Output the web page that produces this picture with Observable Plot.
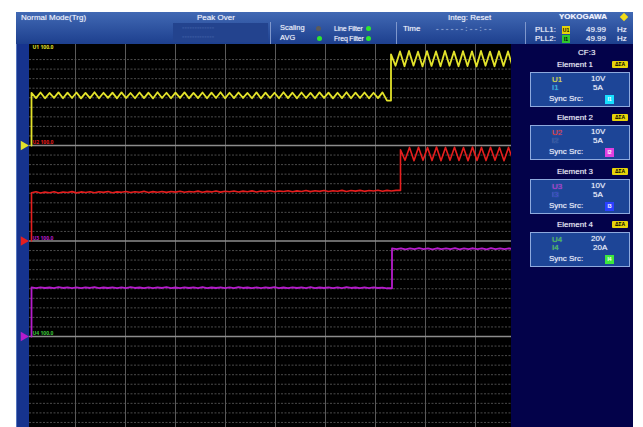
<!DOCTYPE html>
<html><head><meta charset="utf-8">
<script src="https://cdn.jsdelivr.net/npm/d3@7"></script>
<script src="https://cdn.jsdelivr.net/npm/@observablehq/plot@0.6"></script>
<style>
html,body{margin:0;padding:0;background:#fff;}
body{width:643px;height:427px;overflow:hidden;position:relative;font-family:"Liberation Sans","DejaVu Sans",Arial,sans-serif;color:#fff;}
.a{position:absolute;white-space:nowrap;}
.t{font-size:8px;line-height:8px;color:#f2f4ff;text-shadow:0 0 1px rgba(255,255,255,0.5);}
.dot{position:absolute;width:5px;height:5px;border-radius:50%;}
.sep{position:absolute;width:1px;background:#7f97cc;}
.box{position:absolute;background:#1d4597;border:1px solid #8eaade;box-sizing:border-box;}
.tag{position:absolute;font-size:5px;line-height:8px;text-align:center;color:#000;font-weight:bold;}
</style></head>
<body>
<div class="a" style="left:16px;top:12px;width:617px;height:415px;background:#03024a;"></div>
<div class="a" style="left:16px;top:12px;width:617px;height:32px;background:linear-gradient(#4169b4,#1d3f8e);"></div>
<div class="a" style="left:16px;top:44px;width:13px;height:383px;background:#16338e;border-left:1px solid #5474bc;box-sizing:border-box;"></div>
<div class="a" style="left:29px;top:44px;width:482px;height:383px;background:#000;"></div>
<div id="hdr"></div>
<div id="panel"></div>
<div id="chart" class="a" style="left:16px;top:44px;"></div>
<script>
// ---- data ----
const channelNames = ["U1", "U2", "U3", "U4"];
const channelColors = ["#e2e22a", "#e61e1e", "#b61ccc", "#3cc83c"];
const channelLabels = ["U1 100.0", "U2 100.0", "U3 100.0", "U4 100.0"];
const traceStart = 0.12;      // time (div) where traces begin
const sampleStep = 0.09;      // time between samples (div)
const stepTimes = [7.31, 7.5, 7.33];
const ch1Pre = [5.52,4.96,5.55,4.94,5.5,4.98,5.56,4.95,5.53,4.97,
  5.55,4.93,5.51,4.96,5.57,4.95,5.52,4.98,5.54,4.94,
  5.56,4.97,5.5,4.95,5.55,4.96,5.53,4.93,5.57,4.97,
  5.52,4.95,5.54,4.98,5.56,4.94,5.51,4.96,5.55,4.95,
  5.53,4.97,5.57,4.94,5.52,4.96,5.55,4.98,5.5,4.95,
  5.56,4.93,5.54,4.97,5.52,4.95,5.57,4.96,5.53,4.94,
  5.55,4.97,5.51,4.95,5.56,4.98,5.54,4.93,5.52,4.96,
  5.57,4.95,5.53,4.97,5.55,4.94,5.52,4.96,5.56,4.7];
const ch1Post = [9.55,8.35,9.85,8.3,9.9,8.36,9.82,8.28,9.88,8.33,9.85,8.3,9.9,8.35,
  9.84,8.3,9.88,8.32,9.86,8.28,9.9,8.35,9.83,8.3,9.87,8.33,9.85,8.3];
const ch2Pre = [5.05,5.15,5.02,5.12,5.06,5.16,5.03,5.13,5.07,5.17,
  5.04,5.14,5.08,5.16,5.05,5.15,5.09,5.18,5.06,5.14,
  5.1,5.19,5.07,5.16,5.11,5.2,5.08,5.17,5.1,5.19,
  5.09,5.18,5.12,5.21,5.1,5.19,5.13,5.22,5.11,5.2,
  5.14,5.23,5.12,5.21,5.15,5.24,5.13,5.22,5.16,5.25,
  5.14,5.23,5.17,5.26,5.15,5.24,5.18,5.27,5.16,5.25,
  5.19,5.28,5.17,5.26,5.2,5.29,5.18,5.27,5.21,5.3,
  5.19,5.28,5.22,5.3,5.2,5.29,5.23,5.31,5.21,5.3,5.24,5.3];
const ch2Post = [9.55,8.45,9.8,8.4,9.82,8.45,9.78,8.42,9.83,8.4,9.8,8.45,9.82,
  8.43,9.79,8.4,9.83,8.44,9.8,8.42,9.82,8.45,9.78,8.4,9.8,8.44];
const ch3Pre = [5.14,5.07,5.15,5.08,5.13,5.06,5.16,5.08,5.14,5.07,
  5.15,5.06,5.14,5.08,5.16,5.07,5.13,5.08,5.15,5.06,
  5.14,5.07,5.16,5.08,5.13,5.06,5.15,5.07,5.14,5.08,
  5.16,5.06,5.13,5.07,5.15,5.08,5.14,5.06,5.16,5.07,
  5.13,5.08,5.15,5.06,5.14,5.07,5.16,5.08,5.13,5.06,
  5.15,5.07,5.14,5.08,5.16,5.06,5.13,5.07,5.15,5.08,
  5.14,5.06,5.16,5.07,5.13,5.08,5.15,5.06,5.14,5.07,
  5.16,5.08,5.13,5.06,5.15,5.07,5.14,5.08,5.12,5.05];
const ch3Post = [9.22,9.14,9.24,9.13,9.23,9.15,9.25,9.14,9.22,9.13,9.24,9.15,9.23,9.14,
  9.25,9.13,9.22,9.15,9.24,9.14,9.23,9.13,9.25,9.15,9.22,9.14,9.24,9.13];
const gridX = [1,2,3,4,5,6,7,8,9];
const windowDivs = [1,2,3,4,5,6,7,8,9];
const separators = [10, 20, 30];

const elementTitles = ["Element 1", "Element 2", "Element 3", "Element 4"];
const voltRanges = ["10V", "10V", "10V", "20V"];
const currRanges = ["5A", "5A", "5A", "20A"];
const currNames = ["I1", "I2", "I3", "I4"];
const currColors = ["#19b8e8", "#1d4597", "#2636c8", "#3cc83c"];
const syncColors = ["#18e0ff", "#e040e0", "#2a40ff", "#3ce83c"];

// ---- header & side panel (HTML text) ----
const hdr = document.getElementById("hdr");
function add(parent, html) { parent.insertAdjacentHTML("beforeend", html); }
add(hdr, `<div class="a t" style="left:21px;top:14px;">Normal Mode(Trg)</div>`);
add(hdr, `<div class="a t" style="left:197px;top:14px;">Peak Over</div>`);
add(hdr, `<div class="a" style="left:173px;top:23px;width:95px;height:19px;background:#23438e;"></div>`);
add(hdr, `<div class="a t" style="left:182px;top:24px;color:#33539c;text-shadow:none;font-size:7px;">▪▪▪▪▪▪▪▪▪▪▪▪▪</div>`);
add(hdr, `<div class="a t" style="left:182px;top:33px;color:#33539c;text-shadow:none;font-size:7px;">▪▪▪▪▪▪▪▪▪▪▪▪▪</div>`);
add(hdr, `<div class="sep" style="left:270px;top:22px;height:22px;"></div>`);
add(hdr, `<div class="a t" style="left:280px;top:24px;font-size:7.5px;">Scaling</div>`);
add(hdr, `<div class="dot" style="left:316px;top:26px;background:#5a5a5a;"></div>`);
add(hdr, `<div class="a t" style="left:280px;top:34px;font-size:7.5px;">AVG</div>`);
add(hdr, `<div class="dot" style="left:317px;top:36px;background:#2ee82e;"></div>`);
add(hdr, `<div class="a t" style="left:334px;top:25px;font-size:7px;letter-spacing:-0.2px;">Line Filter</div>`);
add(hdr, `<div class="dot" style="left:366px;top:26px;background:#2ee82e;"></div>`);
add(hdr, `<div class="a t" style="left:334px;top:35px;font-size:7px;letter-spacing:-0.2px;">Freq Filter</div>`);
add(hdr, `<div class="dot" style="left:366px;top:36px;background:#2ee82e;"></div>`);
add(hdr, `<div class="sep" style="left:396px;top:22px;height:22px;"></div>`);
add(hdr, `<div class="a t" style="left:448px;top:14px;">Integ: Reset</div>`);
add(hdr, `<div class="a t" style="left:403px;top:25px;">Time</div>`);
add(hdr, `<div class="a t" style="left:436px;top:25px;color:#9db1dc;">- - - - - - : - - : - -</div>`);
add(hdr, `<div class="sep" style="left:525px;top:22px;height:22px;"></div>`);
add(hdr, `<div class="a t" style="left:559px;top:13px;font-weight:bold;">YOKOGAWA</div>`);
add(hdr, `<div class="a" style="left:621px;top:14px;width:6px;height:6px;background:#f2dc1a;transform:rotate(45deg);"></div>`);
add(hdr, `<div class="a t" style="left:535px;top:26px;">PLL1:</div>`);
add(hdr, `<div class="tag" style="left:562px;top:26px;width:8px;height:8px;background:#e6d40a;">U1</div>`);
add(hdr, `<div class="a t" style="left:586px;top:26px;">49.99</div>`);
add(hdr, `<div class="a t" style="left:617px;top:26px;">Hz</div>`);
add(hdr, `<div class="a t" style="left:535px;top:35px;">PLL2:</div>`);
add(hdr, `<div class="tag" style="left:562px;top:35px;width:8px;height:8px;background:#2ec82e;">I1</div>`);
add(hdr, `<div class="a t" style="left:586px;top:35px;">49.99</div>`);
add(hdr, `<div class="a t" style="left:617px;top:35px;">Hz</div>`);

const panel = document.getElementById("panel");
add(panel, `<div class="a t" style="left:578px;top:49px;">CF:3</div>`);
elementTitles.forEach((title, i) => {
  const y0 = 61 + i * 53.3;
  const by = y0 + 11;
  add(panel, `<div class="a t" style="left:557px;top:${y0}px;">${title}</div>`);
  add(panel, `<div class="tag" style="left:612px;top:${y0}px;width:16px;height:7px;line-height:7px;background:#e6d40a;border-radius:1px;">ΔΣA</div>`);
  add(panel, `<div class="box" style="left:530px;top:${by}px;width:100px;height:35px;"></div>`);
  add(panel, `<div class="a t" style="left:552px;top:${by + 4}px;color:${channelColors[i]};">${channelNames[i]}</div>`);
  add(panel, `<div class="a t" style="left:591px;top:${by + 3}px;">${voltRanges[i]}</div>`);
  add(panel, `<div class="a t" style="left:552px;top:${by + 12}px;color:${currColors[i]};">${currNames[i]}</div>`);
  add(panel, `<div class="a t" style="left:593px;top:${by + 12}px;">${currRanges[i]}</div>`);
  add(panel, `<div class="a t" style="left:549px;top:${by + 23}px;">Sync Src:</div>`);
  add(panel, `<div class="tag" style="left:605px;top:${by + 23}px;width:9px;height:9px;background:${syncColors[i]};color:#fff;">${currNames[i]}</div>`);
});

// ---- traces ----
function buildTrace(win, pre, post, stepAt) {
  const base = (3 - win) * 10;
  const pts = [{t: traceStart, v: base}];
  pre.forEach((v, i) => pts.push({t: traceStart + i * sampleStep, v: base + v}));
  pts.push({t: stepAt, v: base + pre[pre.length - 1]});
  post.forEach((v, i) => pts.push({t: stepAt + i * sampleStep, v: base + v}));
  return pts;
}
const tr1 = buildTrace(0, ch1Pre, ch1Post, stepTimes[0]);
const tr2 = buildTrace(1, ch2Pre, ch2Post, stepTimes[1]);
const tr3 = buildTrace(2, ch3Pre, ch3Post, stepTimes[2]);

const minorY = [];
for (let w = 0; w < 4; w++) windowDivs.forEach(d => minorY.push(w * 10 + d));
const labelData = channelLabels.map((s, i) => ({s, y: (3 - i) * 10 + 10, c: channelColors[i]}));
const markerData = [0, 1, 2].map(i => ({y: (3 - i) * 10, c: channelColors[i]}));

const chart = Plot.plot({
  width: 495, height: 383,
  marginLeft: 13, marginRight: 0, marginTop: 0, marginBottom: 0,
  style: {background: "transparent", overflow: "visible"},
  x: {domain: [0.08, 9.72], axis: null},
  y: {domain: [0.471, 40.576], axis: null},
  marks: [
    Plot.ruleY(minorY, {stroke: "#4b4b4b", strokeWidth: 1, strokeDasharray: "2,1.5"}),
    Plot.ruleX(gridX, {stroke: "#5a5a5a", strokeWidth: 1}),
    Plot.ruleY(separators, {stroke: "#8c8c8c", strokeWidth: 1.6}),
    Plot.text(labelData, {x: 0.08, y: "y", text: "s", fill: "c", dx: 3, dy: -3, textAnchor: "start", fontSize: 5, fontWeight: "bold"}),
    Plot.line(tr3, {x: "t", y: "v", stroke: channelColors[2], strokeWidth: 1.8, clip: true}),
    Plot.line(tr2, {x: "t", y: "v", stroke: channelColors[1], strokeWidth: 1.6, clip: true}),
    Plot.line(tr1, {x: "t", y: "v", stroke: channelColors[0], strokeWidth: 1.8, clip: true}),
    Plot.dot(markerData, {x: 0.08, y: "y", fill: "c", stroke: "none", symbol: "triangle", rotate: 90, r: 3.5, dx: -6})
  ]
});
document.getElementById("chart").appendChild(chart);
</script>
</body></html>
